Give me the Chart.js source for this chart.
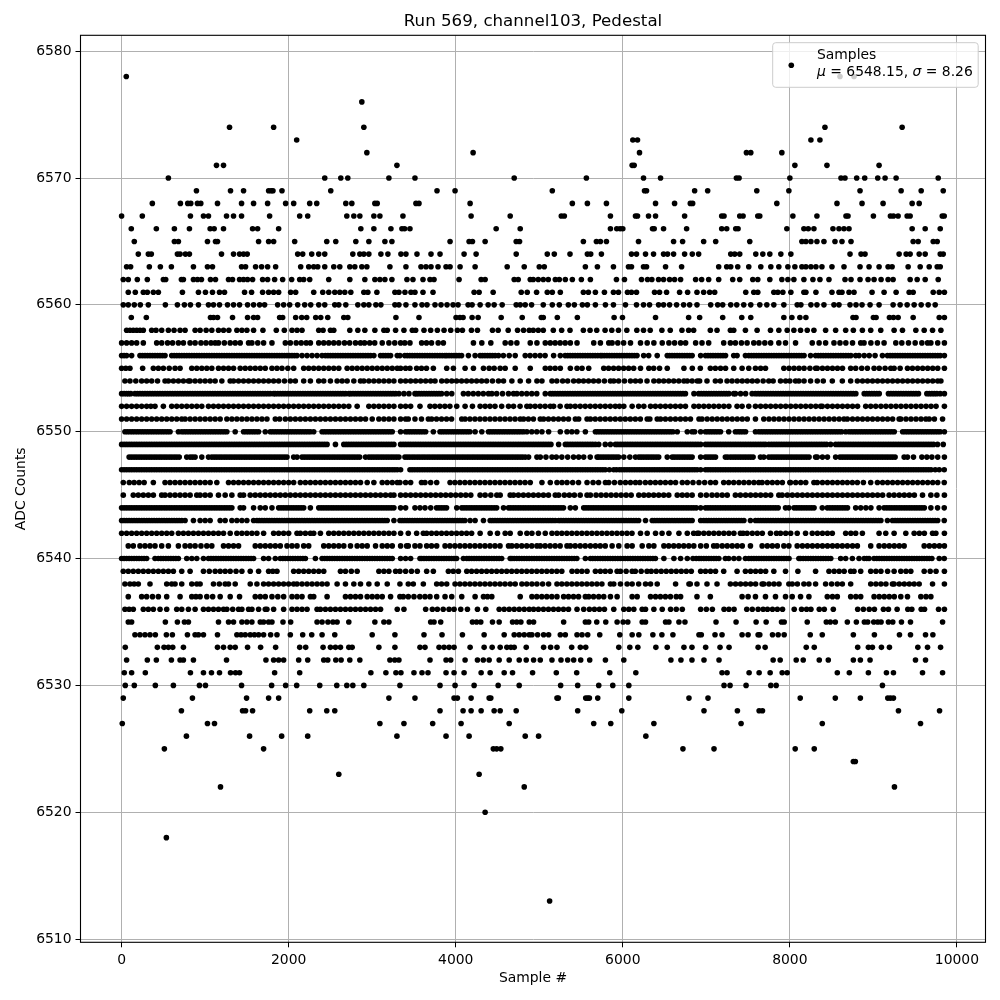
<!DOCTYPE html>
<html><head><meta charset="utf-8">
<style>html,body{margin:0;padding:0;background:#fff}#w{width:1000px;height:1000px}</style>
<script src="https://cdn.jsdelivr.net/npm/chart.js@4"></script></head>
<body><div id="w"><canvas id="c" width="1000" height="1000"></canvas></div>
<script>
const title="Run 569, channel103, Pedestal", xLabel="Sample #", yLabel="ADC Counts";
const xTicks=[0,2000,4000,6000,8000,10000];
const yTicks=[6510,6520,6530,6540,6550,6560,6570,6580];
const a6578=[56,8600,8768];
const a6576=[2876];
const a6574=[1292,1820,2900,8420,9344];
const a6573=[2096,6120,6176,8252,8360];
const a6572=[2936,4208,6200,7480,7532,7904];
const a6571=[1136,1220,3296,6112,6136,8060,8444,9068];
const a6570=[560,2432,2624,2708,3200,3512,4700,5564,6248,6452,7360,7392,8000,8612,8660,8800,8896,9052,9140,9272,9776];
const a6569=[896,1304,1460,1760,1790,1812,1920,2504,3776,3992,5156,6260,6284,6860,7016,7604,7988,8840,9332,9572,9836];
const a6568=[368,704,792,828,908,948,1148,1436,1580,1748,1964,2060,2252,2336,2684,2756,3032,3060,3524,3560,4172,5396,5576,5804,6392,6620,6808,6836,7844,8564,8864,9116,9464,9548];
const a6567=[0,248,824,980,1040,1256,1340,1436,1772,2132,2228,2696,2780,2852,3020,3092,3368,4184,4652,5264,5300,5852,6152,6176,6308,6392,6740,7184,7212,7400,7440,7616,7640,8036,8324,8672,8696,9000,9204,9240,9296,9404,9440,9824,9848];
const a6566=[116,416,632,812,1060,1108,1220,1568,1628,1880,2864,3020,3224,3356,3388,3452,4484,4772,5852,5928,5968,6000,6356,6376,6488,6764,7184,7244,7352,7380,7964,8168,8220,8288,8516,8588,8648,8708,9464,9620,9800];
const a6565=[152,632,680,1028,1124,1148,1640,1760,1820,2072,2456,2564,2804,2960,3152,3236,3932,4160,4200,4352,4724,4764,5528,5684,5732,5804,6188,6608,6716,6968,7112,7520,8144,8192,8252,8324,8408,8540,8624,8732,9476,9536,9716,9764];
const a6564=[200,320,356,668,700,764,812,1196,1340,1412,1460,1504,2108,2168,2276,2360,2432,2768,2852,2900,2960,3104,3188,3344,3404,3536,3704,3812,4100,4244,4724,5096,5180,5368,5576,5616,5744,6104,6164,6272,6368,6488,6536,6608,6740,6832,6908,7292,7340,7400,7592,7676,7760,7892,8012,8720,8852,8900,9308,9392,9440,9548,9620,9800,9836];
const a6563=[60,108,332,464,596,860,1028,1088,1436,1484,1604,1676,1748,1844,2144,2240,2300,2348,2432,2540,2612,2732,2792,2876,2936,3212,3404,3584,3644,3704,3788,3884,3932,4052,4232,4616,4820,5000,5060,5552,5696,5888,6068,6104,6248,6284,6512,6704,7148,7244,7292,7376,7508,7652,7772,7868,7976,8060,8144,8192,8252,8312,8384,8504,8648,8840,8948,9068,9176,9224,9416,9560,9668,9764,9800];
const a6562=[20,80,188,308,500,528,716,740,860,908,956,1064,1124,1280,1328,1412,1460,1508,1568,1688,1748,1832,1928,2036,2132,2180,2252,2480,2732,2912,3032,3092,3152,3236,3416,3488,3608,3692,3740,4040,4304,4352,4700,4748,4892,4928,4988,5048,5108,5192,5240,5312,5396,5504,5612,5924,6020,6224,6296,6348,6428,6488,6560,6620,6692,6872,6944,7028,7148,7316,7400,7556,7616,7760,7904,7976,8048,8168,8276,8360,8468,8660,8732,8840,8936,9008,9092,9176,9236,9440,9524,9620,9776];
const a6561=[80,164,260,308,380,440,728,920,1004,1088,1172,1232,1472,1556,1688,1760,1820,1880,2024,2084,2300,2408,2480,2552,2612,2672,2744,2900,2948,3056,3272,3320,3392,3464,3512,3608,3728,4220,4280,4448,4784,4856,4968,5096,5156,5252,5528,5588,5672,5780,5888,5948,6056,6104,6164,6380,6440,6524,6680,6776,6888,6968,7040,7100,7472,7568,7616,7808,7856,7916,8012,8168,8192,8312,8504,8588,8624,8708,8768,8984,9128,9272,9428,9476,9716,9788,9850];
const a6560=[20,80,152,224,320,524,668,752,824,920,1040,1100,1172,1268,1340,1412,1508,1580,1652,1712,1868,1940,2012,2108,2192,2264,2360,2432,2552,2600,2684,2828,2900,2960,3044,3104,3272,3320,3404,3512,3596,3656,3752,3824,3896,3968,4028,4148,4196,4292,4388,4460,4556,4724,4772,4832,4908,5048,5156,5240,5348,5420,5516,5576,5672,5792,5888,6032,6164,6248,6320,6428,6488,6560,6644,6728,6800,6888,7052,7136,7196,7292,7364,7448,7532,7640,7724,7808,7928,8088,8132,8252,8324,8408,8528,8588,8720,8792,8864,8960,9068,9236,9320,9404,9488,9572,9656,9740];
const a6559=[116,296,1064,1100,1148,1328,1508,1580,1628,1892,1928,2084,2156,2216,2324,2384,2468,2660,2708,3284,3560,4004,4050,4088,4196,4268,4544,4796,5024,5048,5216,5456,5896,5996,6392,6788,6920,7196,7424,7532,7928,8024,8120,8192,8756,8792,9000,9032,9192,9240,9296,9476,9788,9850];
const a6558=[60,100,140,180,220,260,360,412,480,560,628,700,760,880,940,1012,1080,1160,1220,1284,1380,1440,1500,1580,1692,1852,1948,2040,2100,2160,2360,2412,2500,2540,2732,2828,2912,3032,3140,3180,3280,3380,3480,3520,3620,3700,3780,3860,3940,4020,4080,4188,4260,4440,4508,4628,4740,4812,4880,4928,4988,5048,5168,5268,5368,5528,5608,5688,5788,5868,5948,6048,6168,6248,6328,6468,6568,6708,6788,6848,7048,7128,7288,7328,7468,7608,7768,7868,7968,8048,8128,8208,8288,8428,8548,8668,8760,8868,8968,9088,9248,9348,9508,9608,9708,9808];
const a6557=[0,60,120,180,260,420,480,550,610,680,740,820,880,950,1010,1070,1120,1160,1230,1300,1360,1420,1520,1560,1630,1700,1800,1960,2020,2090,2150,2210,2260,2360,2420,2480,2540,2600,2668,2730,2800,2860,2908,2970,3030,3120,3200,3270,3340,3390,3452,3592,3650,3710,3790,3852,4212,4312,4420,4592,4660,4732,4892,4972,5072,5132,5190,5250,5310,5372,5452,5652,5732,5832,5872,5940,6010,6092,6212,6292,6372,6472,6552,6620,6692,6752,6872,6948,7028,7208,7288,7348,7420,7488,7568,7630,7700,7770,7868,7948,8068,8268,8350,8428,8528,8600,8670,8750,8848,8888,8970,9048,9128,9268,9340,9420,9500,9580,9648,9688,9770,9850];
const a6556=[0,60,120,220,280,340,400,460,520,600,660,720,780,840,900,960,1020,1080,1140,1200,1260,1320,1380,1440,1500,1560,1620,1680,1740,1800,1860,1920,1980,2040,2100,2160,2220,2280,2340,2400,2440,2500,2560,2620,2680,2740,2800,2860,2920,2980,3020,3100,3160,3220,3300,3332,3390,3450,3510,3570,3630,3690,3750,3810,3870,3892,3950,4010,4070,4152,4232,4292,4350,4410,4472,4512,4570,4640,4712,4832,4890,4950,5010,5070,5172,5252,5310,5370,5430,5490,5550,5610,5670,5732,5752,5810,5870,5930,5990,6050,6110,6170,6250,6310,6412,6532,6590,6650,6710,6770,6830,6932,6990,7050,7110,7170,7230,7328,7368,7468,7508,7570,7630,7690,7750,7810,7870,7930,7990,8050,8110,8170,8248,8308,8370,8430,8490,8550,8610,8670,8730,8788,8828,8890,8950,9020,9108,9168,9230,9290,9350,9410,9470,9530,9590,9650,9710,9770,9850];
const a6555=[0,50,100,252,380,440,500,570,640,700,840,900,960,1020,1080,1160,1220,1280,1340,1420,1480,1540,1600,1660,1720,1800,1860,1920,1990,2060,2180,2240,2300,2360,2420,2480,2540,2600,2700,2760,2820,2880,2940,3000,3060,3120,3180,3240,3300,3340,3400,3452,3532,3590,3650,3732,3892,3972,4112,4212,4332,4400,4460,4532,4592,4712,4892,5072,5130,5190,5252,5372,5452,5512,5592,5772,5830,5890,5950,6010,6070,6130,6212,6312,6370,6440,6532,6732,6832,6928,7048,7108,7170,7230,7328,7428,7508,7588,7650,7708,7928,7990,8050,8110,8170,8240,8308,8328,8390,8450,8510,8570,8630,8728,8788,8860,8928,9008,9070,9140,9208,9248,9320,9408,9468,9530,9590,9650,9710,9770,9850];
const a6554=[40,100,170,240,300,360,430,520,560,620,680,740,800,820,880,940,1000,1060,1120,1200,1300,1340,1400,1460,1520,1580,1640,1700,1760,1820,1880,1950,2020,2080,2180,2260,2360,2420,2500,2580,2640,2700,2780,2860,2900,2960,3020,3080,3140,3200,3260,3340,3400,3460,3520,3580,3640,3700,3752,3832,3892,3952,4010,4070,4130,4190,4250,4310,4370,4440,4512,4572,4672,4772,4872,4972,5032,5152,5210,5280,5340,5412,5472,5530,5590,5650,5710,5780,5852,5892,5950,6020,6092,6152,6210,6290,6372,6432,6490,6550,6610,6670,6732,6772,6830,6892,6920,7008,7108,7168,7248,7308,7370,7430,7490,7550,7610,7680,7748,7800,7888,7950,8000,8068,8108,8170,8248,8328,8400,8508,8628,8728,8808,8870,8930,8990,9050,9110,9170,9230,9290,9350,9410,9470,9530,9590,9650,9710,9770,9808];
const a6553=[0,60,110,160,220,280,340,400,460,520,580,640,700,760,820,880,940,1000,1060,1120,1180,1240,1300,1360,1420,1480,1540,1600,1660,1720,1780,1820,1840,1900,1960,2020,2080,2140,2200,2260,2320,2380,2440,2500,2560,2620,2680,2720,2740,2800,2860,2920,2980,3040,3100,3160,3220,3280,3320,3380,3440,3512,3532,3590,3650,3710,3770,3830,3892,3952,4092,4150,4210,4270,4330,4392,4432,4490,4560,4632,4692,4732,4790,4850,4910,4970,5072,5132,5190,5250,5310,5370,5430,5490,5550,5610,5670,5730,5790,5850,5910,5970,6030,6090,6150,6210,6270,6330,6390,6450,6510,6570,6630,6690,6750,6852,6908,6970,7030,7090,7150,7210,7270,7328,7348,7410,7470,7548,7588,7650,7710,7770,7830,7890,7950,8010,8070,8130,8190,8250,8310,8370,8430,8490,8550,8610,8670,8730,8790,8890,8950,9010,9070,9180,9240,9300,9360,9420,9480,9540,9640,9700,9760,9850];
const a6552=[0,60,120,180,240,300,350,400,500,600,660,720,780,840,900,960,1040,1100,1160,1220,1280,1340,1400,1460,1520,1580,1640,1700,1760,1820,1880,1940,2000,2060,2120,2180,2240,2300,2360,2420,2480,2540,2600,2660,2720,2820,2960,3020,3080,3140,3200,3260,3340,3400,3460,3572,3692,3750,3810,3870,3930,4012,4112,4200,4292,4352,4410,4470,4550,4632,4692,4770,4852,4892,4950,5010,5070,5132,5172,5250,5332,5372,5430,5490,5550,5610,5670,5730,5790,5850,5910,5960,6012,6112,6190,6252,6332,6390,6450,6510,6570,6630,6690,6750,6852,6910,6970,7030,7090,7150,7210,7270,7368,7428,7508,7588,7650,7710,7770,7830,7890,7950,8010,8070,8130,8190,8250,8310,8368,8388,8450,8510,8570,8630,8690,8750,8810,8908,8968,9028,9090,9150,9210,9270,9330,9390,9450,9510,9570,9630,9690,9750,9850];
const a6551=[0,60,120,180,240,300,360,420,480,540,600,660,720,760,820,880,940,1000,1060,1120,1180,1260,1320,1380,1440,1500,1560,1620,1680,1740,1840,1892,1960,2020,2080,2140,2200,2260,2320,2380,2440,2500,2560,2620,2680,2740,2800,2860,2920,3000,3080,3140,3200,3260,3340,3400,3432,3512,3590,3672,3712,3770,3830,3890,3950,4072,4112,4170,4230,4290,4350,4410,4470,4530,4590,4650,4710,4772,4812,4870,4930,5012,5052,5110,5170,5230,5290,5350,5432,5472,5572,5612,5670,5730,5790,5850,5910,5970,6030,6090,6150,6210,6292,6324,6412,6452,6510,6570,6630,6690,6750,6810,6912,6948,7010,7070,7130,7190,7250,7310,7370,7430,7490,7588,7688,7750,7810,7870,7930,7990,8050,8110,8170,8230,8290,8350,8410,8470,8530,8590,8648,8688,8750,8810,8870,8930,8990,9050,9110,9170,9230,9308,9328,9390,9450,9510,9570,9628,9668,9730,9828];
const a6550=[40,100,160,220,280,340,400,460,520,580,680,720,780,840,900,960,1020,1080,1140,1200,1260,1360,1460,1520,1580,1640,1720,1780,1840,1900,1960,2020,2080,2140,2200,2260,2300,2400,2460,2520,2580,2640,2700,2760,2820,2880,2940,3000,3060,3120,3180,3240,3340,3400,3460,3520,3580,3640,3732,3812,3870,3930,3990,4050,4110,4170,4232,4312,4392,4450,4510,4570,4630,4690,4750,4812,4852,4910,4970,5032,5112,5252,5332,5390,5450,5552,5672,5730,5790,5850,5910,5970,6030,6090,6150,6210,6270,6330,6390,6450,6510,6570,6652,6772,6830,6932,6990,7050,7110,7170,7268,7348,7410,7470,7588,7628,7690,7750,7810,7870,7930,7990,8050,8110,8170,8230,8290,8350,8410,8470,8530,8590,8668,8708,8770,8830,8890,8950,9010,9070,9130,9190,9250,9350,9410,9470,9530,9590,9650,9710,9770,9850];
const a6549=[0,60,120,180,240,300,360,420,480,540,600,660,720,780,840,900,960,1020,1080,1140,1200,1260,1320,1380,1440,1500,1560,1620,1680,1740,1800,1860,1920,1980,2040,2100,2160,2220,2280,2340,2400,2460,2560,2660,2720,2780,2840,2900,2960,3020,3080,3140,3200,3260,3340,3400,3460,3520,3580,3640,3700,3760,3820,3880,3940,4000,4060,4120,4180,4240,4300,4360,4420,4480,4540,4600,4660,4720,4780,4840,4900,4960,5020,5080,5140,5232,5312,5370,5430,5490,5550,5610,5672,5712,5790,5852,5912,5970,6030,6090,6150,6210,6270,6330,6390,6450,6510,6570,6630,6690,6750,6810,6870,6932,6990,7050,7110,7170,7230,7290,7350,7410,7470,7530,7590,7650,7708,7748,7810,7870,7930,7990,8050,8110,8170,8230,8290,8350,8410,8488,8548,8610,8670,8730,8790,8850,8910,8970,9030,9090,9150,9210,9270,9330,9390,9450,9510,9570,9630,9690,9768,9836];
const a6548=[90,150,210,270,330,390,450,510,570,630,690,780,820,880,960,1040,1080,1140,1200,1260,1320,1380,1440,1500,1560,1620,1680,1740,1800,1860,1920,1980,2060,2100,2160,2190,2250,2310,2370,2430,2490,2550,2610,2670,2730,2790,2850,2920,2960,3020,3080,3140,3200,3260,3320,3392,3450,3510,3570,3630,3690,3750,3810,3870,3930,3990,4050,4110,4170,4230,4290,4350,4410,4470,4530,4590,4650,4710,4770,4832,4872,4972,5012,5080,5152,5204,5270,5340,5410,5472,5532,5610,5692,5712,5770,5830,5890,5950,6012,6084,6152,6192,6250,6310,6370,6430,6532,6592,6650,6710,6770,6830,6932,6990,7050,7110,7228,7256,7320,7380,7440,7500,7560,7648,7688,7748,7810,7870,7930,7990,8050,8110,8170,8230,8308,8328,8390,8450,8548,8600,8660,8720,8780,8840,8900,8960,9020,9080,9140,9200,9260,9368,9408,9480,9580,9640,9700,9770,9850];
const a6547=[0,60,120,180,240,300,360,420,480,540,600,660,720,780,840,900,960,1020,1080,1140,1200,1260,1320,1380,1440,1500,1560,1620,1680,1740,1800,1860,1920,1980,2040,2100,2160,2220,2280,2340,2400,2460,2520,2580,2640,2700,2760,2820,2880,2940,3000,3060,3120,3180,3240,3300,3340,3452,3510,3570,3630,3690,3750,3810,3870,3930,3990,4050,4110,4170,4230,4290,4350,4410,4470,4530,4590,4650,4710,4770,4830,4890,4950,5010,5070,5130,5190,5250,5310,5370,5430,5490,5550,5610,5670,5730,5790,5892,5924,5990,6050,6110,6170,6230,6290,6350,6410,6470,6530,6590,6650,6710,6770,6830,6890,6932,6990,7050,7110,7170,7230,7290,7350,7410,7470,7530,7590,7650,7710,7770,7830,7890,7950,8010,8070,8130,8190,8250,8310,8370,8430,8490,8550,8610,8670,8730,8790,8850,8910,8970,9030,9090,9150,9210,9270,9330,9390,9450,9510,9570,9630,9690,9788,9848];
const a6546=[20,92,150,210,270,380,520,580,640,700,760,820,880,940,1000,1060,1140,1280,1340,1400,1460,1520,1580,1640,1700,1760,1820,1880,1940,2000,2060,2140,2200,2260,2320,2380,2440,2500,2560,2620,2680,2740,2800,2860,2940,3020,3120,3180,3240,3300,3332,3400,3460,3590,3632,3700,3772,3932,3990,4050,4110,4170,4230,4290,4350,4410,4470,4530,4590,4650,4710,4770,4830,4892,5032,5132,5212,5272,5332,5400,5470,5572,5644,5710,5792,5832,5900,5970,6032,6092,6152,6204,6270,6330,6390,6450,6510,6572,6632,6712,6772,6840,6912,6980,7050,7110,7208,7268,7328,7390,7450,7510,7570,7628,7668,7730,7790,7850,7910,8000,8008,8070,8130,8190,8288,8328,8390,8450,8510,8570,8630,8688,8748,8808,8880,8968,9048,9110,9170,9230,9290,9350,9410,9470,9530,9590,9650,9710,9770,9848];
const a6545=[20,140,200,260,320,380,480,520,580,640,700,760,820,900,940,1000,1060,1160,1240,1320,1420,1460,1540,1600,1660,1720,1780,1840,1900,1960,2020,2080,2140,2200,2260,2320,2380,2440,2500,2560,2620,2680,2740,2800,2860,2920,2980,3040,3100,3160,3220,3260,3340,3400,3460,3520,3580,3640,3700,3760,3820,3880,3940,4000,4060,4120,4180,4292,4352,4420,4492,4532,4652,4692,4750,4810,4870,4930,4990,5050,5110,5192,5232,5300,5360,5420,5490,5572,5612,5680,5740,5800,5860,5920,5980,6040,6100,6192,6252,6310,6370,6430,6490,6550,6652,6712,6770,6830,6932,7000,7068,7128,7190,7250,7348,7408,7470,7530,7590,7650,7710,7770,7868,7908,7970,8030,8090,8150,8210,8270,8330,8390,8450,8510,8570,8630,8690,8750,8810,8870,8930,8990,9050,9110,9188,9248,9310,9370,9430,9490,9588,9688,9760,9850];
const a6544=[0,60,120,180,240,300,360,420,480,540,600,660,720,780,840,900,960,1020,1080,1140,1200,1260,1320,1420,1460,1580,1660,1720,1800,1880,1940,2000,2060,2120,2180,2260,2360,2420,2480,2540,2600,2660,2720,2780,2840,2900,2960,3020,3080,3140,3200,3260,3340,3400,3512,3572,3632,3700,3770,3830,3890,4012,4072,4130,4190,4250,4310,4370,4430,4490,4572,4632,4690,4750,4810,4870,4930,4990,5050,5110,5170,5230,5290,5372,5432,5532,5590,5650,5710,5770,5830,5890,5950,6010,6070,6130,6190,6250,6310,6370,6430,6490,6550,6610,6670,6730,6790,6850,6932,6990,7050,7110,7170,7230,7290,7350,7410,7470,7530,7590,7650,7710,7770,7830,7948,7988,8050,8110,8170,8230,8290,8388,8448,8510,8570,8630,8690,8788,8848,8910,8970,9068,9128,9190,9250,9310,9370,9430,9490,9550,9610,9688,9768,9848];
const a6543=[0,60,120,180,240,300,360,420,480,540,600,660,720,760,860,940,1000,1060,1180,1240,1320,1380,1440,1500,1580,1620,1680,1740,1800,1860,1920,1980,2040,2100,2160,2220,2280,2340,2400,2460,2520,2580,2640,2700,2760,2820,2880,2940,3000,3060,3120,3180,3260,3332,3390,3450,3510,3570,3630,3690,3750,3810,3870,3930,3990,4050,4110,4172,4232,4332,4412,4470,4530,4590,4650,4710,4770,4830,4890,4950,5010,5070,5130,5192,5232,5290,5350,5410,5470,5530,5590,5650,5710,5770,5830,5890,5950,6010,6070,6130,6190,6272,6352,6410,6470,6530,6590,6650,6710,6770,6830,6932,6968,7030,7090,7150,7210,7270,7330,7390,7450,7528,7588,7650,7710,7770,7830,7890,7950,8010,8070,8130,8190,8250,8310,8370,8430,8490,8550,8610,8670,8730,8790,8850,8910,8970,9030,9090,9168,9228,9290,9350,9410,9470,9530,9590,9650,9710,9770,9848];
const a6542=[0,60,120,180,240,300,360,420,480,540,600,680,740,800,860,920,980,1040,1100,1160,1220,1300,1380,1440,1500,1560,1620,1700,1820,1880,1940,2000,2100,2140,2200,2260,2300,2380,2480,2540,2600,2660,2720,2780,2840,2900,2960,3020,3080,3140,3200,3260,3340,3432,3532,3612,3652,3710,3770,3830,3890,3950,4010,4070,4130,4190,4292,4412,4500,4592,4652,4772,4852,4912,4990,5072,5152,5212,5270,5330,5390,5450,5510,5570,5630,5690,5750,5810,5870,5930,5990,6050,6110,6212,6292,6392,6470,6552,6672,6772,6892,6848,6910,6970,7030,7090,7150,7210,7270,7330,7408,7440,7488,7550,7610,7670,7768,7840,7888,7950,8010,8088,8188,8268,8330,8390,8450,8508,8668,8730,8788,8868,9068,9148,9248,9388,9488,9550,9610,9708,9748,9850];
const a6541=[80,140,220,280,340,400,480,560,680,760,820,880,950,1020,1080,1220,1280,1340,1400,1600,1660,1720,1780,1840,1900,1980,2040,2100,2180,2240,2420,2480,2540,2600,2660,2740,2820,2880,2940,3040,3120,3180,3240,3340,3412,3432,3512,3572,3652,3710,3772,3872,3930,3990,4050,4110,4170,4230,4290,4350,4410,4470,4530,4632,4672,4730,4790,4850,4910,4972,5012,5070,5130,5190,5250,5332,5372,5430,5490,5550,5612,5672,5730,5790,5872,5952,6052,6112,6232,6312,6372,6492,6550,6610,6670,6730,6790,6850,6932,7000,7088,7128,7190,7250,7310,7370,7430,7528,7668,7730,7790,7850,7928,7988,8088,8150,8210,8270,8330,8390,8450,8510,8568,8628,8688,8750,8808,8968,9068,9130,9190,9250,9310,9368,9608,9670,9730,9790,9850];
const a6540=[0,60,120,180,240,300,400,440,500,560,620,680,780,840,900,980,1040,1100,1160,1220,1280,1340,1400,1460,1520,1580,1700,1760,1840,1900,1960,2020,2080,2140,2200,2320,2400,2460,2520,2580,2640,2700,2760,2820,2880,2940,3000,3060,3120,3180,3240,3340,3400,3460,3572,3592,3650,3710,3770,3830,3890,3950,4010,4092,4132,4190,4250,4310,4370,4430,4490,4550,4652,4672,4730,4790,4850,4910,4970,5030,5090,5150,5210,5270,5330,5390,5450,5552,5612,5670,5730,5790,5850,5910,5970,6030,6090,6150,6210,6270,6330,6390,6492,6612,6692,6772,6840,6912,6970,7030,7090,7150,7228,7268,7330,7390,7468,7508,7570,7630,7690,7750,7810,7870,7930,7990,8108,8128,8190,8250,8310,8370,8430,8490,8608,8668,8748,8828,8890,8948,9008,9070,9130,9190,9250,9310,9370,9430,9490,9550,9610,9670,9788,9848];
const a6539=[20,80,140,200,260,320,380,440,500,560,620,720,820,980,1050,1120,1180,1240,1300,1370,1440,1540,1640,1760,1810,1860,2060,2120,2180,2240,2300,2360,2420,2620,2680,2750,2820,3080,3140,3200,3280,3332,3400,3470,3540,3652,3732,3912,3970,4032,4132,4190,4250,4310,4370,4430,4490,4550,4610,4670,4730,4790,4850,4910,4970,5030,5090,5150,5210,5270,5392,5452,5510,5572,5672,5732,5790,5850,5932,5972,6040,6112,6150,6220,6290,6340,6400,6460,6520,6580,6640,6700,6760,6820,6932,6990,7050,7110,7208,7368,7468,7530,7590,7650,7710,7808,7948,8096,8308,8468,8530,8590,8650,8728,8768,8848,8968,9030,9090,9170,9248,9328,9390,9448,9608,9680,9750,9850];
const a6538=[40,100,150,200,340,540,600,640,720,840,900,940,1100,1170,1240,1280,1360,1540,1620,1700,1760,1820,1880,1940,2000,2060,2100,2160,2220,2280,2340,2400,2460,2580,2680,2780,2860,2960,3060,3180,3332,3432,3492,3612,3772,3830,3892,3992,4050,4110,4170,4230,4290,4350,4410,4470,4530,4590,4652,4712,4792,4850,4912,4972,5040,5112,5212,5270,5330,5390,5450,5510,5570,5630,5690,5750,5852,5892,5972,6052,6112,6190,6272,6332,6412,6632,6792,6808,6888,7008,7128,7288,7350,7410,7470,7530,7590,7668,7688,7750,7810,7870,7988,8028,8090,8168,8228,8308,8428,8500,8568,8628,8728,8968,9030,9090,9150,9228,9248,9310,9370,9430,9488,9548,9708,9850];
const a6537=[80,240,300,370,440,540,700,840,890,940,1020,1090,1180,1300,1412,1600,1660,1720,1800,1870,1940,2040,2100,2160,2260,2300,2460,2680,2740,2800,2860,2940,3000,3060,3120,3220,3332,3372,3432,3500,3570,3632,3692,3772,3872,3952,4072,4232,4332,4380,4432,4772,4912,4970,5030,5090,5150,5212,5292,5350,5410,5470,5552,5592,5650,5712,5772,5852,5932,6112,6172,6332,6392,6450,6510,6570,6640,6692,6888,7048,7428,7500,7588,7708,7828,7948,8028,8128,8228,8448,8510,8568,8728,8790,8848,9008,9070,9130,9190,9250,9328,9408,9568,9630,9688];
const a6536=[40,90,140,260,320,380,460,540,660,720,800,880,980,1040,1100,1160,1220,1260,1330,1400,1440,1520,1560,1640,1720,1740,1820,1940,2040,2100,2160,2220,2340,2380,2440,2500,2560,2620,2680,2740,2800,2860,2920,2980,3040,3100,3300,3380,3640,3720,3780,3850,3920,3980,4060,4140,4260,4360,4520,4580,4640,4700,4760,4820,4880,4932,4990,5050,5110,5170,5230,5290,5350,5452,5532,5600,5660,5720,5780,5892,6012,6072,6132,6232,6272,6372,6472,6572,6640,6712,6932,7000,7072,7212,7270,7332,7484,7550,7620,7680,7732,7792,7850,7912,8052,8140,8200,8252,8352,8412,8520,8812,8880,8950,9012,9120,9180,9284,9412,9460,9572,9612,9780,9850];
const a6535=[80,120,524,668,752,800,1160,1280,1340,1440,1500,1560,1660,1700,1760,1800,1932,2024,2340,2400,2470,2530,2580,2720,3032,3140,3200,3700,3740,3820,4200,4250,4300,4440,4520,4680,4730,4780,4880,4932,5292,5552,5592,5688,5796,5932,6004,6060,6232,6272,6512,6552,6672,6744,7116,7356,7596,7716,7900,7932,8208,8436,8484,8544,8688,8796,8892,8932,9004,9052,9092,9180,9232,9336,9444,9828];
const a6534=[160,220,280,340,404,536,608,788,880,920,980,1148,1380,1430,1480,1540,1590,1640,1700,1784,1860,2020,2168,2276,2400,2552,3000,3272,3620,3836,4080,4340,4580,4700,4760,4820,4880,4912,4980,5052,5112,5252,5312,5452,5512,5580,5724,5964,6112,6192,6360,6468,6600,6912,6940,7104,7188,7428,7500,7620,7640,7792,7860,7932,8244,8388,8760,9012,9312,9444,9624,9712];
const a6533=[44,428,508,560,612,740,1148,1220,1300,1360,1508,1664,1844,2132,2204,2412,2500,2560,2620,2720,2760,3080,3272,3572,3632,3800,3860,3920,3980,4172,4340,4436,4532,4612,4660,4700,4844,5052,5136,5212,5388,5492,5556,5952,6084,6180,6396,6532,6732,6828,6992,7164,7272,7620,7704,8196,8292,8812,8940,8988,9096,9192,9532,9648,9804];
const a6532=[60,308,416,596,700,740,860,1256,1728,1820,1880,1940,2120,2228,2420,2468,2564,2628,2732,2852,3212,3270,3320,3692,3884,3940,4112,4260,4330,4400,4520,4640,4760,4844,4932,5012,5152,5260,5340,5412,5496,5604,5792,6012,6576,6696,6828,6972,7152,7800,7884,8076,8160,8352,8460,8760,8844,8960,9504,9624];
const a6531=[32,120,284,824,980,1076,1172,1304,1364,1412,1832,2132,2984,3164,3284,3344,3500,3596,3668,3884,3980,4100,4304,4412,4580,4680,4920,5204,5448,5844,6156,7188,7248,7512,7632,7764,7908,7968,8568,8712,8940,9156,9240,9588,9828];
const a6530=[44,152,404,620,932,1004,1436,1796,1964,2096,2372,2576,2696,2768,2900,3332,3812,3992,4220,4508,4760,5256,5460,5712,5880,6072,7212,7284,7476,7772,7836,9108];
const a6529=[20,848,1496,1760,1880,3200,3512,3980,4020,4184,4400,4420,5212,5228,5556,5580,5600,5700,6072,6792,7020,8124,8544,8844,9172,9204,9240];
const a6528=[716,1448,1484,1568,2252,2456,2552,3812,4088,4184,4304,4460,4532,4724,5460,5988,6972,7372,7632,7672,9300,9792];
const a6527=[8,1028,1112,3092,3380,3724,4064,4640,5652,5856,6372,7416,8388,9564];
const a6526=[776,1532,1916,2228,3296,3884,4160,4832,4992,6276];
const a6525=[512,1700,4450,4490,4540,6720,7092,8064,8292];
const a6524=[8760,8784];
const a6523=[2600,4280];
const a6522=[1184,4820,9252];
const a6520=[4352];
const a6518=[536];
const a6513=[5124];
// further samples read inside the solid runs of the densest rows
const b6556=[30,250,310,370,430,490,630,690,750,810,870,930,990,1050,1110,1170,1230,1290,1350,1410,1470,1530,1590,1650,1710,1770,1830,1890,1950,2010,2070,2470,2530,2590,2650,2710,2770,2830,2890,2950,3130,3190,3420,3480,3540,3600,3660,3720,3780,3840,3920,3980,4040,4320,4380,4440,5340,5400,5460,5520,5580,5640,5700,5780,5840,5900,5960,6020,6080,6140,6560,6620,6680,6740,6800,7020,7080,7140,7200,7540,7600,7660,7720,7780,7840,7900,7960,8020,8080,8140,8340,8400,8460,8520,8580,8640,8700,9200,9260,9320,9380,9440,9500,9560,9620,9680,9740,9800];
const b6553=[30,85,190,250,310,370,430,490,550,610,670,730,790,850,910,970,1030,1090,1150,1210,1270,1330,1390,1450,1510,1570,1630,1690,1750,1870,1930,1990,2050,2110,2170,2230,2290,2350,2410,2470,2530,2590,2650,2770,2830,2890,2950,3010,3070,3130,3190,3250,3560,3620,3680,3740,3800,5160,5220,5280,5340,5400,5460,5520,5580,5640,5700,5760,5820,5880,5940,6000,6060,6120,6180,6240,6300,6360,6420,6480,6540,6600,6660,6720,6940,7000,7060,7120,7180,7240,7620,7680,7740,7800,7860,7920,7980,8040,8100,8160,8220,8280,8340,8400,8460,8520,8580,8640,8700,8760,8920,8980,9040,9210,9270,9330,9390,9450,9510,9670,9730,9800];
const b6550=[70,130,190,250,310,370,430,490,550,750,810,870,930,990,1050,1110,1170,1230,1490,1550,1610,1810,1870,1930,1990,2050,2110,2170,2230,2430,2490,2550,2610,2670,2730,2790,2850,2910,2970,3030,3090,3150,3210,3430,3490,3550,3610,3840,3900,3960,4020,4080,4140,4420,4480,4540,4600,4660,4720,4780,5700,5760,5820,5880,5940,6000,6060,6120,6180,6240,6300,6360,6420,6480,6540,6600,6860,7020,7080,7140,7380,7440,7660,7720,7780,7840,7900,7960,8020,8080,8140,8200,8260,8320,8380,8440,8500,8560,8620,8740,8800,8860,8920,8980,9040,9100,9160,9220,9380,9440,9500,9560,9620,9680,9740,9800];
const b6549=[30,90,150,210,270,330,390,450,510,570,630,690,750,810,870,930,990,1050,1110,1170,1230,1290,1350,1410,1470,1530,1590,1650,1710,1770,1830,1890,1950,2010,2070,2130,2190,2250,2310,2370,2430,2690,2750,2810,2870,2930,2990,3050,3110,3170,3230,3370,3430,3490,3550,3610,3670,3730,3790,3850,3910,3970,4030,4090,4150,4210,4270,4330,4390,4450,4510,4570,4630,4690,4750,4810,4870,4930,4990,5050,5110,5340,5400,5460,5520,5580,5640,5940,6000,6060,6120,6180,6240,6300,6360,6420,6480,6540,6600,6660,6720,6780,6840,6900,7020,7080,7140,7200,7260,7320,7380,7440,7500,7560,7620,7680,7780,7840,7900,7960,8020,8080,8140,8200,8260,8320,8380,8440,8580,8640,8700,8760,8820,8880,8940,9000,9060,9120,9180,9240,9300,9360,9420,9480,9540,9600,9660,9720];
const b6548=[120,180,240,300,360,420,480,540,600,660,850,1110,1170,1230,1290,1350,1410,1470,1530,1590,1650,1710,1770,1830,1890,1950,2220,2280,2340,2400,2460,2520,2580,2640,2700,2760,2820,2990,3050,3110,3170,3230,3290,3420,3480,3540,3600,3660,3720,3780,3840,3900,3960,4020,4080,4140,4200,4260,4320,4380,4440,4500,4560,4620,4680,4740,4800,5740,5800,5860,5920,6220,6280,6340,6400,6620,6680,6740,6800,7020,7080,7290,7350,7410,7470,7530,7780,7840,7900,7960,8020,8080,8140,8200,8630,8690,8750,8810,8870,8930,8990,9050,9110,9170,9230];
const b6547=[30,90,150,210,270,330,390,450,510,570,630,690,750,810,870,930,990,1050,1110,1170,1230,1290,1350,1410,1470,1530,1590,1650,1710,1770,1830,1890,1950,2010,2070,2130,2190,2250,2310,2370,2430,2490,2550,2610,2670,2730,2790,2850,2910,2970,3030,3090,3150,3210,3270,3480,3540,3600,3660,3720,3780,3840,3900,3960,4020,4080,4140,4200,4260,4320,4380,4440,4500,4560,4620,4680,4740,4800,4860,4920,4980,5040,5100,5160,5220,5280,5340,5400,5460,5520,5580,5640,5700,5760,5840,5960,6020,6080,6140,6200,6260,6320,6380,6440,6500,6560,6620,6680,6740,6800,6860,7020,7080,7140,7200,7260,7320,7380,7440,7500,7560,7620,7680,7740,7800,7860,7920,7980,8040,8100,8160,8220,8280,8340,8400,8460,8520,8580,8640,8700,8760,8820,8880,8940,9000,9060,9120,9180,9240,9300,9360,9420,9480,9540,9600,9660,9740];
const b6544=[30,90,150,210,270,330,390,450,510,570,630,690,750,810,870,930,990,1050,1110,1170,1230,1290,1910,1970,2030,2090,2150,2390,2450,2510,2570,2630,2690,2750,2810,2870,2930,2990,3050,3110,3170,3230,3800,3860,4100,4160,4220,4280,4340,4400,4460,4660,4720,4780,4840,4900,4960,5020,5080,5140,5200,5260,5560,5620,5680,5740,5800,5860,5920,5980,6040,6100,6160,6220,6280,6340,6400,6460,6520,6580,6640,6700,6760,6820,6880,7020,7080,7140,7200,7260,7320,7380,7440,7500,7560,7620,7680,7740,7800,7860,8080,8140,8200,8260,8480,8540,8600,8660,9160,9220,9280,9340,9400,9460,9520,9580];
const b6543=[30,90,150,210,270,330,390,450,510,570,630,690,1650,1710,1770,1830,1890,1950,2010,2070,2130,2190,2250,2310,2370,2430,2490,2550,2610,2670,2730,2790,2850,2910,2970,3030,3090,3150,3360,3420,3480,3540,3600,3660,3720,3780,3840,3900,3960,4020,4080,4440,4500,4560,4620,4680,4740,4800,4860,4920,4980,5040,5100,5160,5260,5320,5380,5440,5500,5560,5620,5680,5740,5800,5860,5920,5980,6040,6100,6160,6380,6440,6500,6560,6620,6680,6740,6800,7000,7060,7120,7180,7240,7300,7360,7420,7620,7680,7740,7800,7860,7920,7980,8040,8100,8160,8220,8280,8340,8400,8460,8520,8580,8640,8700,8760,8820,8880,8940,9000,9060,9260,9320,9380,9440,9500,9560,9620,9680,9740];
const b6540=[30,90,150,210,270,470,530,590,650,1070,1130,1190,1250,1310,1370,1430,1490,1550,1930,1990,2050,2110,2170,2430,2490,2550,2610,2670,2730,2790,2850,2910,2970,3030,3090,3150,3210,3620,3680,3740,3800,3860,3920,3980,4160,4220,4280,4340,4400,4460,4520,4700,4760,4820,4880,4940,5000,5060,5120,5180,5240,5300,5360,5420,5640,5700,5760,5820,5880,5940,6000,6060,6120,6180,6240,6300,6360,6880,6940,7000,7060,7120,7540,7600,7660,7720,7780,7840,7900,7960,8160,8220,8280,8340,8400,8460,8920,9040,9100,9160,9220,9280,9340,9400,9460,9520,9580,9640,9700];
const levels=[[6578,a6578],[6576,a6576],[6574,a6574],[6573,a6573],[6572,a6572],[6571,a6571],[6570,a6570],[6569,a6569],[6568,a6568],[6567,a6567],[6566,a6566],[6565,a6565],[6564,a6564],[6563,a6563],[6562,a6562],[6561,a6561],[6560,a6560],[6559,a6559],[6558,a6558],[6557,a6557],[6556,a6556],[6556,b6556],[6555,a6555],[6554,a6554],[6553,a6553],[6553,b6553],[6552,a6552],[6551,a6551],[6550,a6550],[6550,b6550],[6549,a6549],[6549,b6549],[6548,a6548],[6548,b6548],[6547,a6547],[6547,b6547],[6546,a6546],[6545,a6545],[6544,a6544],[6544,b6544],[6543,a6543],[6543,b6543],[6542,a6542],[6541,a6541],[6540,a6540],[6540,b6540],[6539,a6539],[6538,a6538],[6537,a6537],[6536,a6536],[6535,a6535],[6534,a6534],[6533,a6533],[6532,a6532],[6531,a6531],[6530,a6530],[6529,a6529],[6528,a6528],[6527,a6527],[6526,a6526],[6525,a6525],[6524,a6524],[6523,a6523],[6522,a6522],[6520,a6520],[6518,a6518],[6513,a6513]];
const points=[];
for(const [y,xs] of levels) for(const x of xs) points.push({x,y});
const FONT='"DejaVu Sans"';
const frame={id:'frame',
 afterDatasetsDraw(ch){
  const c=ch.ctx,a=ch.chartArea;
  c.save();
  c.strokeStyle='#000';c.lineWidth=1.1;
  c.strokeRect(a.left,a.top,a.right-a.left,a.bottom-a.top);
  c.beginPath();c.roundRect(772.7,42.7,205.5,44.6,3);
  c.fillStyle='rgba(255,255,255,0.8)';c.fill();
  c.strokeStyle='#cccccc';c.lineWidth=1;c.stroke();
  c.fillStyle='#000';c.beginPath();c.arc(791.3,65.3,2.8,0,Math.PI*2);c.fill();
  c.textBaseline='alphabetic';c.textAlign='left';c.fillStyle='#000';
  c.font='13.9px '+FONT;c.fillText('Samples',817,59);
  let x=817;const y=76;
  const parts=[['μ',1],[' = 6548.15, ',0],['σ',1],[' = 8.26',0]];
  for(const [t,it] of parts){c.font=(it?'italic ':'')+'13.9px '+FONT;c.fillText(t,x,y);x+=c.measureText(t).width;}
  c.restore();
 }};
new Chart(document.getElementById('c'),{
 type:'scatter',
 data:{datasets:[{label:'Samples',data:points,backgroundColor:'#000',borderWidth:0,pointRadius:2.8,pointHoverRadius:2.8,pointStyle:'circle'}]},
 plugins:[frame],
 options:{responsive:false,animation:false,events:[],
  layout:{padding:{left:0,right:14.5,top:0,bottom:0}},
  plugins:{legend:{display:false},tooltip:{enabled:false},
   title:{display:true,fullSize:false,text:title,color:'#000',font:{family:FONT,size:16.67,weight:'normal'},padding:{top:12,bottom:3.3}}},
  scales:{
   x:{type:'linear',min:-492,max:10342,
    afterBuildTicks:s=>{s.ticks=xTicks.map(v=>({value:v}));},
    afterFit:s=>{s.height=57.7;},
    grid:{color:'#b0b0b0',lineWidth:1,tickLength:5,tickColor:'#000',drawOnChartArea:true},
    border:{display:false},
    ticks:{color:'#000',font:{family:FONT,size:13.9},padding:5,maxRotation:0,callback:v=>String(v)},
    title:{display:true,text:xLabel,color:'#000',font:{family:FONT,size:13.9},padding:{top:2,bottom:13}}},
   y:{type:'linear',min:6509.75,max:6581.25,
    afterBuildTicks:s=>{s.ticks=yTicks.map(v=>({value:v}));},
    afterFit:s=>{s.width=80.5;},
    grid:{color:'#b0b0b0',lineWidth:1,tickLength:5,tickColor:'#000'},
    border:{display:false},
    ticks:{color:'#000',font:{family:FONT,size:13.9},padding:4,callback:v=>String(v)},
    title:{display:true,text:yLabel,color:'#000',font:{family:FONT,size:13.9},padding:{top:13,bottom:0}}}
  }}});
</script></body></html>
